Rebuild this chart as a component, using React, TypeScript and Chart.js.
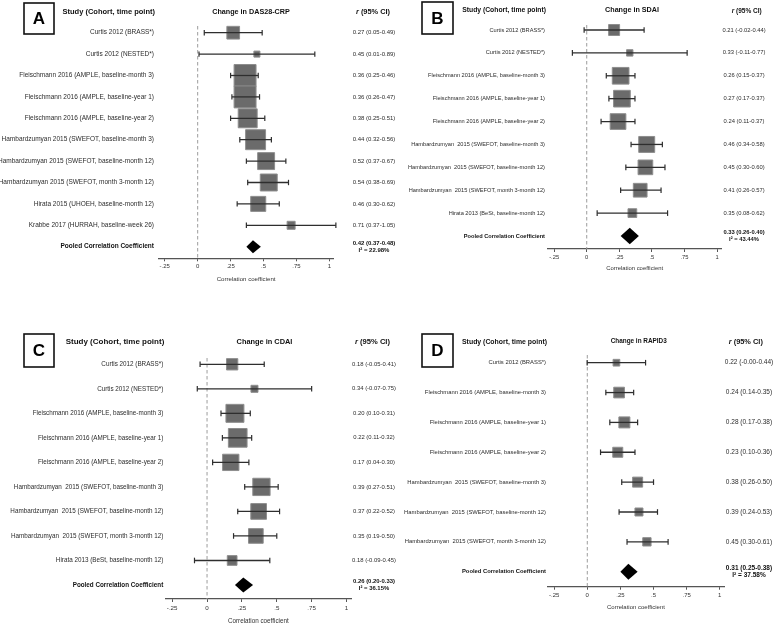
import React, { useEffect, useRef } from "react";
import { Chart, registerables } from "chart.js";

Chart.register(...registerables);

const FONT = "'Liberation Sans', Arial, Helvetica, sans-serif";
const W = 778;
const H = 629;

const tickValues = [-0.25, 0, 0.25, 0.5, 0.75, 1];
const tickLabels = ["-.25", "0", ".25", ".5", ".75", "1"];

// ---------- Panel A: Change in DAS28-CRP ----------
const studiesA = [
  "Curtis 2012 (BRASS*)",
  "Curtis 2012 (NESTED*)",
  "Fleischmann 2016 (AMPLE, baseline-month 3)",
  "Fleischmann 2016 (AMPLE, baseline-year 1)",
  "Fleischmann 2016 (AMPLE, baseline-year 2)",
  "Hambardzumyan 2015 (SWEFOT, baseline-month 3)",
  "Hambardzumyan 2015 (SWEFOT, baseline-month 12)",
  "Hambardzumyan 2015 (SWEFOT, month 3-month 12)",
  "Hirata 2015 (UHOEH, baseline-month 12)",
  "Krabbe 2017 (HURRAH, baseline-week 26)",
];
const rA = [0.27, 0.45, 0.36, 0.36, 0.38, 0.44, 0.52, 0.54, 0.46, 0.71];
const lowA = [0.05, 0.01, 0.25, 0.26, 0.25, 0.32, 0.37, 0.38, 0.3, 0.37];
const highA = [0.49, 0.89, 0.46, 0.47, 0.51, 0.56, 0.67, 0.69, 0.62, 1.05];
const weightA = [5.8, 1.3, 17.3, 17.3, 12.9, 14.3, 10.3, 10.3, 8.1, 2.3];
const pooledA = [0.42, 0.37, 0.48];
const i2A = "22.98%";

// ---------- Panel B: Change in SDAI ----------
const studiesB = [
  "Curtis 2012 (BRASS*)",
  "Curtis 2012 (NESTED*)",
  "Fleischmann 2016 (AMPLE, baseline-month 3)",
  "Fleischmann 2016 (AMPLE, baseline-year 1)",
  "Fleischmann 2016 (AMPLE, baseline-year 2)",
  "Hambardzumyan  2015 (SWEFOT, baseline-month 3)",
  "Hambardzumyan  2015 (SWEFOT, baseline-month 12)",
  "Hambardzumyan  2015 (SWEFOT, month 3-month 12)",
  "Hirata 2013 (BeSt, baseline-month 12)",
];
const rB = [0.21, 0.33, 0.26, 0.27, 0.24, 0.46, 0.45, 0.41, 0.35];
const lowB = [-0.02, -0.11, 0.15, 0.17, 0.11, 0.34, 0.3, 0.26, 0.08];
const highB = [0.44, 0.77, 0.37, 0.37, 0.37, 0.58, 0.6, 0.57, 0.62];
const weightB = [7.1, 2.4, 16.4, 16.4, 14.5, 15.0, 12.7, 11.1, 4.5];
const pooledB = [0.33, 0.26, 0.4];
const i2B = "43.44%";

// ---------- Panel C: Change in CDAI ----------
const studiesC = [
  "Curtis 2012 (BRASS*)",
  "Curtis 2012 (NESTED*)",
  "Fleischmann 2016 (AMPLE, baseline-month 3)",
  "Fleischmann 2016 (AMPLE, baseline-year 1)",
  "Fleischmann 2016 (AMPLE, baseline-year 2)",
  "Hambardzumyan  2015 (SWEFOT, baseline-month 3)",
  "Hambardzumyan  2015 (SWEFOT, baseline-month 12)",
  "Hambardzumyan  2015 (SWEFOT, month 3-month 12)",
  "Hirata 2013 (BeSt, baseline-month 12)",
];
const rC = [0.18, 0.34, 0.2, 0.22, 0.17, 0.39, 0.37, 0.35, 0.18];
const lowC = [-0.05, -0.07, 0.1, 0.11, 0.04, 0.27, 0.22, 0.19, -0.09];
const highC = [0.41, 0.75, 0.31, 0.32, 0.3, 0.51, 0.52, 0.5, 0.45];
const weightC = [6.5, 2.5, 16.4, 17.7, 13.5, 15.2, 12.5, 10.9, 4.8];
const pooledC = [0.26, 0.2, 0.33];
const i2C = "36.15%";

// ---------- Panel D: Change in RAPID3 ----------
const studiesD = [
  "Curtis 2012 (BRASS*)",
  "Fleischmann 2016 (AMPLE, baseline-month 3)",
  "Fleischmann 2016 (AMPLE, baseline-year 1)",
  "Fleischmann 2016 (AMPLE, baseline-year 2)",
  "Hambardzumyan  2015 (SWEFOT, baseline-month 3)",
  "Hambardzumyan  2015 (SWEFOT, baseline-month 12)",
  "Hambardzumyan  2015 (SWEFOT, month 3-month 12)",
];
const rD = [0.22, 0.24, 0.28, 0.23, 0.38, 0.39, 0.45];
const lowD = [-0.001, 0.14, 0.17, 0.1, 0.26, 0.24, 0.3];
const highD = [0.44, 0.35, 0.38, 0.36, 0.5, 0.53, 0.61];
const weightD = [7.3, 18.6, 19.7, 16.3, 16.3, 10.4, 11.3];
const pooledD = [0.31, 0.25, 0.38];
const i2D = "37.58%";

type Layout = {
  plotLeft: number; plotRight: number;
  firstRow: number; lastRow: number; axisY: number; dashTop: number;
  labelRight: number; valueCenter: number;
  labelFont: number; valueFont: number;
  headFont: number; changeFont: number; rFont: number;
  headY: number; rHeadY: number; changeCenter: number; rCenter: number;
  box: number[]; letterFont: number;
  tickFont: number; tickOff: number; titleFont: number; titleOff: number;
  boxK: number; diamondH: number; capR: number;
};

type Panel = {
  letter: string; title: string;
  studies: string[]; r: number[]; low: number[]; high: number[]; weight: number[];
  pooled: number[]; i2: string; L: Layout;
};

const panels: Panel[] = [
  {
    letter: "A", title: "Change in DAS28-CRP",
    studies: studiesA, r: rA, low: lowA, high: highA, weight: weightA, pooled: pooledA, i2: i2A,
    L: {
      plotLeft: 158.2, plotRight: 333.9, firstRow: 32.7, lastRow: 246.7, axisY: 258.3, dashTop: 26,
      labelRight: 154, valueCenter: 374, labelFont: 6.5, valueFont: 6,
      headFont: 7.5, changeFont: 7.2, rFont: 7.4, headY: 11.7, rHeadY: 11.7, changeCenter: 251, rCenter: 373,
      box: [24, 3, 54, 34], letterFont: 17,
      tickFont: 6, tickOff: 8.4, titleFont: 6.1, titleOff: 20.7,
      boxK: 5.28, diamondH: 6.5, capR: 2.7,
    },
  },
  {
    letter: "B", title: "Change in SDAI",
    studies: studiesB, r: rB, low: lowB, high: highB, weight: weightB, pooled: pooledB, i2: i2B,
    L: {
      plotLeft: 547.6, plotRight: 721.7, firstRow: 30, lastRow: 236, axisY: 249, dashTop: 25,
      labelRight: 545, valueCenter: 744, labelFont: 5.65, valueFont: 5.8,
      headFont: 6.8, changeFont: 7.2, rFont: 6.5, headY: 10.5, rHeadY: 11.7, changeCenter: 632, rCenter: 746.7,
      box: [422, 2, 453, 34], letterFont: 17,
      tickFont: 5.8, tickOff: 8, titleFont: 5.9, titleOff: 19,
      boxK: 4.12, diamondH: 8.3, capR: 2.8,
    },
  },
  {
    letter: "C", title: "Change in CDAI",
    studies: studiesC, r: rC, low: lowC, high: highC, weight: weightC, pooled: pooledC, i2: i2C,
    L: {
      plotLeft: 165.2, plotRight: 351.4, firstRow: 364.3, lastRow: 585, axisY: 599, dashTop: 358,
      labelRight: 163.3, valueCenter: 374, labelFont: 6.3, valueFont: 5.9,
      headFont: 8, changeFont: 7.4, rFont: 7.6, headY: 341.7, rHeadY: 341.7, changeCenter: 264.5, rCenter: 372.5,
      box: [24, 334, 54, 367], letterFont: 17,
      tickFont: 6.2, tickOff: 9.7, titleFont: 6.3, titleOff: 22,
      boxK: 4.44, diamondH: 7.5, capR: 2.8,
    },
  },
  {
    letter: "D", title: "Change in RAPID3",
    studies: studiesD, r: rD, low: lowD, high: highD, weight: weightD, pooled: pooledD, i2: i2D,
    L: {
      plotLeft: 547.55, plotRight: 724.4, firstRow: 362.7, lastRow: 571.7, axisY: 586.7, dashTop: 355,
      labelRight: 546, valueCenter: 749, labelFont: 5.85, valueFont: 6.5,
      headFont: 6.9, changeFont: 6.4, rFont: 7.4, headY: 341.7, rHeadY: 341.7, changeCenter: 638.7, rCenter: 745.8,
      box: [422, 334, 453, 367], letterFont: 17,
      tickFont: 6, tickOff: 8.3, titleFont: 6, titleOff: 21,
      boxK: 2.48, diamondH: 8, capR: 2.8,
    },
  },
];

function fmt(v: number, lo: number, hi: number) {
  return `${v.toFixed(2)} (${lo.toFixed(2)}-${hi.toFixed(2)})`;
}

function text(ctx: CanvasRenderingContext2D, s: string, x: number, y: number, size: number,
  opts: { bold?: boolean; italic?: boolean; align?: CanvasTextAlign; color?: string } = {}) {
  ctx.save();
  ctx.font = `${opts.italic ? "italic " : ""}${opts.bold ? "bold " : ""}${size}px ${FONT}`;
  ctx.textAlign = opts.align || "left";
  ctx.textBaseline = "middle";
  ctx.fillStyle = opts.color || "#333";
  ctx.fillText(s, x, y);
  ctx.restore();
}

function forestPlugin(p: Panel) {
  const L = p.L;
  const pooledIndex = p.studies.length;
  return {
    id: "forest" + p.letter,
    beforeDatasetsDraw(chart: any) {
      const { ctx, chartArea, scales } = chart;
      const x0 = scales.x.getPixelForValue(0);
      ctx.save();
      ctx.strokeStyle = "#9c9c9c";
      ctx.lineWidth = 1;
      ctx.setLineDash([3.5, 2.5]);
      ctx.beginPath();
      ctx.moveTo(x0, chartArea.top);
      ctx.lineTo(x0, chartArea.bottom);
      ctx.stroke();
      ctx.restore();
    },
    afterDatasetsDraw(chart: any) {
      const { ctx, scales } = chart;
      const y = scales.y.getPixelForValue(pooledIndex);
      const xl = scales.x.getPixelForValue(p.pooled[1]);
      const xc = scales.x.getPixelForValue(p.pooled[0]);
      const xr = scales.x.getPixelForValue(p.pooled[2]);
      ctx.save();
      ctx.fillStyle = "#000";
      ctx.beginPath();
      ctx.moveTo(xl, y);
      ctx.lineTo(xc, y - L.diamondH);
      ctx.lineTo(xr, y);
      ctx.lineTo(xc, y + L.diamondH);
      ctx.closePath();
      ctx.fill();
      ctx.restore();
    },
    afterDraw(chart: any) {
      const { ctx, scales } = chart;
      const ys = scales.y;
      // letter box
      const [bx0, by0, bx1, by1] = L.box;
      ctx.save();
      ctx.strokeStyle = "#111";
      ctx.lineWidth = 1.6;
      ctx.strokeRect(bx0, by0, bx1 - bx0, by1 - by0);
      ctx.restore();
      text(ctx, p.letter, (bx0 + bx1) / 2, (by0 + by1) / 2 + 1, L.letterFont, { bold: true, align: "center", color: "#000" });
      // headers
      text(ctx, "Study (Cohort, time point)", L.labelRight + 1, L.headY, L.headFont, { bold: true, align: "right", color: "#111" });
      text(ctx, p.title, L.changeCenter, L.headY, L.changeFont, { bold: true, align: "center", color: "#111" });
      ctx.save();
      ctx.font = `italic bold ${L.rFont}px ${FONT}`;
      const wR = ctx.measureText("r").width;
      ctx.font = `bold ${L.rFont}px ${FONT}`;
      const wRest = ctx.measureText(" (95% CI)").width;
      ctx.restore();
      const rx = L.rCenter - (wR + wRest) / 2;
      text(ctx, "r", rx, L.rHeadY, L.rFont, { bold: true, italic: true, color: "#111" });
      text(ctx, " (95% CI)", rx + wR, L.rHeadY, L.rFont, { bold: true, color: "#111" });
      // rows
      p.studies.forEach((s, i) => {
        const y = ys.getPixelForValue(i);
        text(ctx, s, L.labelRight, y, L.labelFont, { align: "right", color: "#2c2c2c" });
        text(ctx, fmt(p.r[i], p.low[i], p.high[i]), L.valueCenter, y, L.valueFont, { align: "center", color: "#2c2c2c" });
      });
      const yp = ys.getPixelForValue(pooledIndex);
      text(ctx, "Pooled Correlation Coefficient", L.labelRight, yp, L.labelFont, { bold: true, align: "right", color: "#111" });
      text(ctx, fmt(p.pooled[0], p.pooled[1], p.pooled[2]), L.valueCenter, yp - L.valueFont * 0.55, L.valueFont, { bold: true, align: "center", color: "#111" });
      text(ctx, "I\u00B2 = " + p.i2, L.valueCenter, yp + L.valueFont * 0.55, L.valueFont, { bold: true, align: "center", color: "#111" });
    },
  };
}

function buildConfig(p: Panel): any {
  const L = p.L;
  const n = p.studies.length + 1;
  const s = (L.lastRow - L.firstRow) / (n - 1);
  const yMin = -(L.firstRow - L.dashTop) / s;
  const yMax = n - 1 + (L.axisY - L.lastRow) / s;
  const axisH = L.titleOff + (L.titleFont * 1.2) / 2;
  const tickPad = L.tickOff - 3 - (L.tickFont * 1.2) / 2;

  const datasets: any[] = [];
  p.studies.forEach((_, i) => {
    datasets.push({
      data: [{ x: p.low[i], y: i }, { x: p.high[i], y: i }],
      showLine: true, borderColor: "#2e2e2e", borderWidth: 1.3, pointRadius: 0, clip: false,
    });
  });
  datasets.push({
    data: p.studies.flatMap((_, i) => [{ x: p.low[i], y: i }, { x: p.high[i], y: i }]),
    pointStyle: "line", rotation: 90, pointRadius: L.capR, borderColor: "#2e2e2e", borderWidth: 1.2, clip: false,
  });
  datasets.push({
    data: p.r.map((v, i) => ({ x: v, y: i })),
    pointStyle: "rect",
    pointRadius: p.weight.map((w) => (L.boxK * Math.sqrt(w)) / Math.SQRT2),
    backgroundColor: "#6b6b6b", borderColor: "#8e8e8e", borderWidth: 1, clip: false,
  });

  return {
    type: "scatter",
    data: { datasets },
    options: {
      animation: false,
      responsive: false,
      events: [],
      layout: { padding: { left: L.plotLeft, right: W - L.plotRight, top: L.dashTop, bottom: H - L.axisY - axisH } },
      plugins: { legend: { display: false }, tooltip: { enabled: false } },
      scales: {
        x: {
          type: "linear", position: "bottom", min: -0.3, max: 1.035,
          afterBuildTicks: (ax: any) => { ax.ticks = tickValues.map((v) => ({ value: v })); },
          afterFit: (ax: any) => { ax.height = axisH; },
          ticks: {
            callback: (v: number) => { const k = tickValues.indexOf(v); return k >= 0 ? tickLabels[k] : ""; },
            autoSkip: false, maxRotation: 0, padding: tickPad, color: "#333",
            font: { family: FONT, size: L.tickFont },
          },
          grid: { display: true, drawOnChartArea: false, drawTicks: true, tickLength: 3, color: "#555", lineWidth: 1 },
          border: { display: true, color: "#555", width: 1.2 },
          title: { display: true, text: "Correlation coefficient", padding: 0, color: "#333", font: { family: FONT, size: L.titleFont } },
        },
        y: { type: "linear", display: false, reverse: true, min: yMin, max: yMax },
      },
    },
    plugins: [forestPlugin(p)],
  };
}

function ForestPanel({ panel }: { panel: Panel }) {
  const ref = useRef<HTMLCanvasElement>(null);
  useEffect(() => {
    if (!ref.current) return;
    const chart = new Chart(ref.current, buildConfig(panel));
    return () => chart.destroy();
  }, [panel]);
  return (
    <canvas
      ref={ref}
      width={W}
      height={H}
      style={{ position: "absolute", left: 0, top: 0, width: W, height: H }}
    />
  );
}

export default function App() {
  return (
    <div style={{ position: "absolute", left: 0, top: 0, width: W, height: H, background: "#fff", overflow: "hidden" }}>
      {panels.map((p) => (
        <ForestPanel key={p.letter} panel={p} />
      ))}
    </div>
  );
}
